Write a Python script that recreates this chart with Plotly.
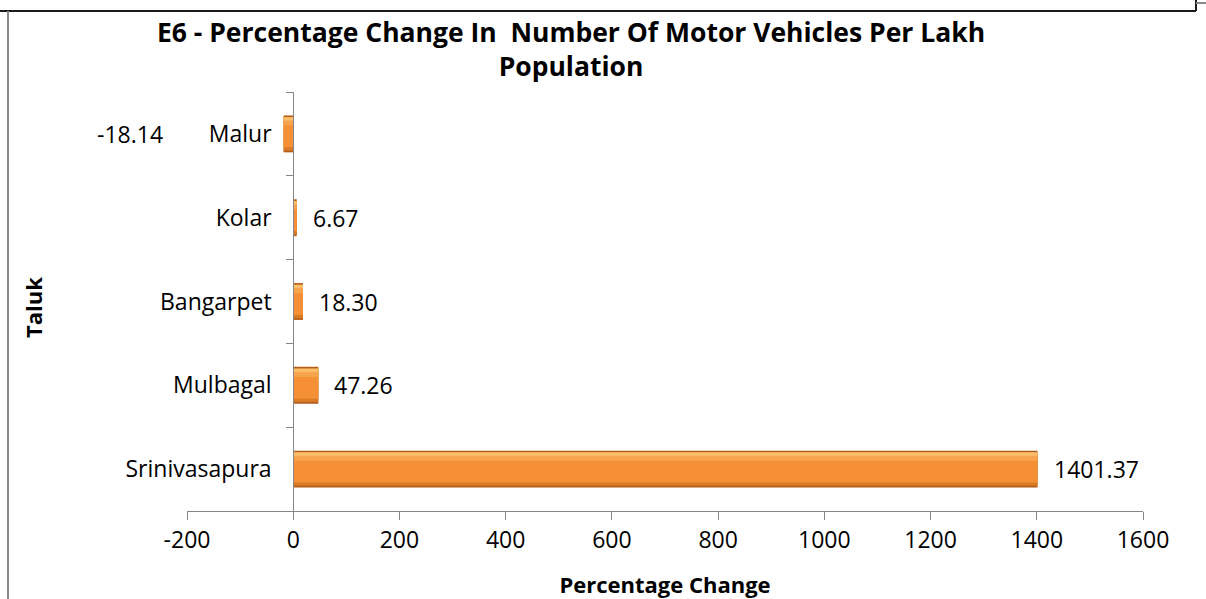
import plotly.graph_objects as go

# ── data ─────────────────────────────────────────────
TALUKS = ["Srinivasapura", "Mulbagal", "Bangarpet", "Kolar", "Malur"]
PCT_CHANGE = [1401.37, 47.26, 18.30, 6.67, -18.14]
X_TICKS = [-200, 0, 200, 400, 600, 800, 1000, 1200, 1400, 1600]
X_TICKTEXT = ["-200", "0", "200", "400", "600", "800", "1000", "1200", "1400", "1600"]

TITLE = "E6 - Percentage Change In  Number Of Motor Vehicles Per Lakh<br>Population"
FONT = "Open Sans, Lato, Arial"

W, H = 1206, 599
L, R, T, B = 187, 63, 92, 88
PW, PH = W - L - R, H - T - B

fig = go.Figure()

# bevel-ish bars built from stacked stripes (dark base -> light top edge)
STRIPES = [("#B35D1A", 0.44, -0.22),
           ("#D97A26", 0.40, -0.20),
           ("#F59036", 0.35, -0.16),
           ("#F8A34E", 0.09, 0.10),
           ("#FBBF6C", 0.04, 0.16)]
for color, width, offset in STRIPES:
    fig.add_trace(go.Bar(
        y=TALUKS, x=PCT_CHANGE, orientation="h",
        width=width, offset=offset,
        marker=dict(color=color, line=dict(width=0)),
        hoverinfo="x+y", showlegend=False,
    ))

# data labels
for name, val in zip(TALUKS, PCT_CHANGE):
    fig.add_annotation(
        x=val, y=name, text=f"{val:.2f}", showarrow=False,
        xanchor="left" if val >= 0 else "right",
        xshift=14 if val >= 0 else -119,
        font=dict(family=FONT, size=23, color="#000000"),
    )

fig.add_annotation(
    text="<b>Taluk</b>", textangle=-90, showarrow=False,
    xref="paper", yref="paper", x=(33 - L) / PW, y=(H - B - 308) / PH,
    xanchor="center", yanchor="middle",
    font=dict(family=FONT, size=22, color="#000000"),
)

# frame remnants around the chart
top = 1 + (T - 11) / PH
fig.add_shape(type="line", xref="paper", yref="paper",
              x0=-L / PW, x1=(1196 - L) / PW, y0=top, y1=top,
              line=dict(color="#1a1a1a", width=2))
fig.add_shape(type="line", xref="paper", yref="paper",
              x0=(1196 - L) / PW, x1=(1196 - L) / PW, y0=top, y1=1 + T / PH,
              line=dict(color="#1a1a1a", width=2))
fig.add_shape(type="line", xref="paper", yref="paper",
              x0=(1196 - L) / PW, x1=1 + R / PW,
              y0=1 + (T - 3) / PH, y1=1 + (T - 3) / PH,
              line=dict(color="#888888", width=2))
fig.add_shape(type="line", xref="paper", yref="paper",
              x0=(8 - L) / PW, x1=(8 - L) / PW, y0=-B / PH, y1=top,
              line=dict(color="#888888", width=2))

fig.update_layout(
    width=W, height=H,
    barmode="overlay",
    paper_bgcolor="white", plot_bgcolor="white",
    margin=dict(l=L, r=R, t=T, b=B),
    font=dict(family=FONT, color="#000000"),
    title=dict(
        text=f"<b>{TITLE}</b>", xref="container", x=571 / W, xanchor="center",
        y=1 - 42 / H, yanchor="middle",
        font=dict(family=FONT, size=26.5, color="#000000"),
    ),
    xaxis=dict(
        range=[-200, 1600], tickvals=X_TICKS, ticktext=X_TICKTEXT,
        showgrid=False, zeroline=False, automargin=False,
        showline=True, linecolor="#868686", linewidth=1,
        ticks="outside", ticklen=8, tickcolor="#868686",
        tickfont=dict(family=FONT, size=23),
        title=dict(text="<b>Percentage Change</b>", font=dict(family=FONT, size=22), standoff=26),
    ),
    yaxis=dict(
        type="category", range=[-0.5, 4.5], anchor="free", position=200 / 1800,
        showline=True, linecolor="#868686", linewidth=1, showgrid=False, automargin=False,
        ticks="outside", ticklen=7, tickcolor="#868686", tickson="boundaries",
        tickfont=dict(family=FONT, size=23), ticklabelstandoff=17,
    ),
)

fig.write_html("out.html", config={"displayModeBar": False},
               post_script="document.body.style.margin='0';")
